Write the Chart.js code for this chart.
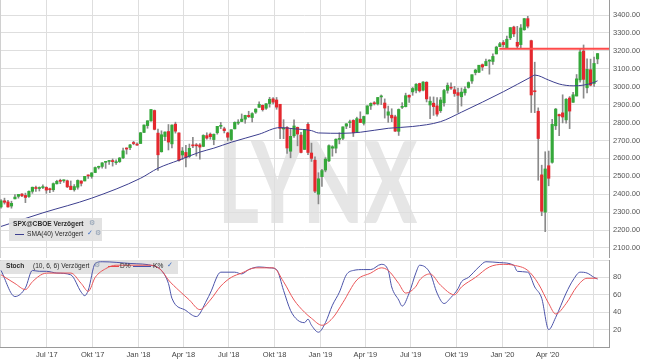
<!DOCTYPE html>
<html>
<head>
<meta charset="utf-8">
<script src="https://cdn.jsdelivr.net/npm/chart.js@4.4.1/dist/chart.umd.min.js"></script>
<style>
  body { margin: 0; background: #fff; }
  #wrap { position: relative; width: 645px; height: 363px; overflow: hidden; font-family: "Liberation Sans", Arial, sans-serif; }
  canvas { position: absolute; left: 0; z-index: 1; }
  #priceChart { top: 0; }
  #stochChart { top: 258px; }
  #watermark { position: absolute; left: 218px; top: 124px; z-index: 0; font: 900 112px Lato, "Liberation Sans", Arial, sans-serif; color: #e6e6e6; line-height: 1; transform-origin: 0 0; transform: scaleX(0.7); white-space: nowrap; }
  .over { position: absolute; z-index: 2; font-size: 6.6px; color: #2a2a2a; white-space: nowrap; }
  .over span { position: absolute; top: 0; }
  #legendBox { left: 9px; top: 218px; width: 93px; height: 23px; background: rgba(224,224,224,0.92); }
  .gear { color: #8a9bb0; font-family: "DejaVu Sans", sans-serif; font-size: 7px; }
  .check { color: #3f6fc4; font-family: "DejaVu Sans", sans-serif; font-size: 7px; }
  #stochHead { left: 0; top: 261px; width: 178px; height: 11px; }
</style>
</head>
<body>
<div id="wrap">
  <div id="watermark">LYNX</div>
  <canvas id="priceChart" width="645" height="258"></canvas>
  <canvas id="stochChart" width="645" height="105"></canvas>
  <div id="legendBox" class="over">
    <span style="left:4px;top:2px;font-weight:bold">SPX@CBOE Verzögert</span>
    <span class="gear" style="left:80px;top:1px">⚙</span>
    <span style="left:6px;top:16px;width:9px;height:1px;background:#3d3f8f"></span>
    <span style="left:18px;top:12px">SMA(40) Verzögert</span>
    <span class="check" style="left:78px;top:11px">✓</span>
    <span class="gear" style="left:86px;top:11px">⚙</span>
  </div>
  <div id="stochHead" class="over">
    <span style="left:6px;top:1px;font-weight:bold">Stoch</span>
    <span style="left:33px;top:1px">(10, 6, 6) Verzögert</span>
    <span class="gear" style="left:94px;top:0">⚙</span>
    <span style="left:108px;top:5px;width:11px;height:1px;background:#e8474a"></span>
    <span style="left:120px;top:1px">D%</span>
    <span style="left:133px;top:5px;width:18px;height:1px;background:#4a52a8"></span>
    <span style="left:153px;top:1px">K%</span>
    <span class="check" style="left:167px;top:0">✓</span>
  </div>
</div>
<script>
// weekly candles, each one dated on the Friday of its week
const firstWeek = '2017-03-31';

const opens = [
  2329,2363,2357,2334,2374,2388,2401,2393,2387,2416,2437,2432,2437,2438,2431,2425,2458,2473,2475,2475,
  2445,2425,2439,2474,2474,2503,2499,2521,2550,2555,2578,2583,2588,2576,2582,2603,2658,2660,2685,2679,
  2683,2745,2783,2809,2867,2741,2637,2722,2750,2681,2791,2742,2619,2633,2611,2671,2675,2675,2667,2727,
  2735,2705,2743,2779,2765,2742,2705,2765,2797,2806,2819,2840,2828,2858,2885,2896,2880,2906,2932,2926,
  2902,2764,2773,2640,2726,2773,2730,2650,2790,2630,2590,2400,
  2498,2535,2586,2657,2657,2706,2712,2780,2799,2812,2747,2819,2796,2848,2893,2909,2904,2943,2909,2841,
  2841,2832,2751,2885,2889,2952,2971,2980,3018,2981,3025,2898,2908,2893,2866,2910,2980,2996,2983,2967,
  2944,2966,2996,3032,3079,3081,3123,3117,3143,3141,3183,3224,
  3247,3218,3273,3333,3248,3235,3318,3380,3257,2974,2863,2508,2300,2559,2578,2782,2845,2854,2815,2937,
  2913,2948,3038,3199,2994,3095,3018,3155
];
const highs = [
  2370,2378,2366,2361,2398,2399,2404,2406,2419,2440,2446,2441,2453,2442,2434,2463,2478,2484,2480,2479,
  2474,2454,2480,2475,2500,2508,2520,2552,2557,2576,2582,2588,2597,2592,2605,2657,2659,2679,2695,2687,
  2745,2787,2810,2873,2870,2763,2754,2748,2789,2787,2802,2742,2661,2673,2680,2718,2683,2682,2732,2743,
  2742,2736,2779,2801,2774,2746,2760,2804,2816,2848,2841,2863,2855,2877,2916,2898,2906,2941,2940,2940,
  2902,2816,2778,2767,2815,2775,2746,2761,2800,2685,2608,2520,
  2539,2604,2675,2671,2709,2743,2776,2794,2814,2816,2830,2860,2836,2894,2910,2917,2940,2954,2932,2892,
  2877,2841,2876,2911,2964,2955,2996,3017,3020,3028,3028,2944,2943,2939,2940,2985,3021,3022,3002,2993,
  2993,3000,3027,3067,3097,3120,3127,3154,3151,3183,3226,3248,
  3258,3282,3330,3338,3337,3347,3381,3393,3260,3137,2882,2562,2637,2641,2818,2879,2847,2955,2934,2945,
  2968,3068,3211,3233,3155,3154,3165,3186
];
const lows = [
  2322,2345,2328,2322,2374,2378,2387,2353,2382,2405,2415,2418,2431,2405,2408,2415,2457,2459,2466,2437,
  2425,2417,2428,2446,2474,2488,2489,2520,2541,2546,2544,2566,2557,2566,2577,2598,2624,2649,2676,2673,
  2683,2743,2768,2808,2759,2533,2635,2699,2647,2659,2741,2585,2594,2553,2605,2660,2613,2595,2665,2707,
  2707,2676,2735,2766,2742,2698,2699,2764,2789,2805,2796,2828,2803,2851,2885,2864,2873,2886,2904,2874,
  2710,2710,2628,2603,2717,2670,2631,2649,2621,2583,2409,2346,
  2443,2525,2582,2612,2631,2681,2705,2766,2771,2722,2746,2800,2786,2848,2873,2898,2898,2900,2825,2801,
  2805,2750,2728,2878,2887,2912,2952,2966,2970,2976,2915,2822,2840,2835,2856,2891,2964,2985,2946,2856,
  2892,2953,2992,3019,3066,3078,3091,3117,3070,3124,3183,3224,
  3221,3214,3263,3280,3214,3214,3315,3328,2856,2855,2478,2280,2191,2447,2573,2761,2727,2798,2797,2766,
  2913,2948,3025,2936,2965,3005,3001,3128
];
const closes = [
  2363,2355,2329,2349,2384,2399,2391,2382,2416,2439,2432,2433,2438,2423,2425,2459,2472,2472,2476,2441,
  2426,2443,2477,2461,2500,2502,2519,2549,2553,2575,2581,2588,2582,2579,2602,2642,2652,2675,2683,2674,
  2743,2786,2810,2873,2762,2620,2732,2747,2691,2786,2752,2588,2641,2604,2656,2670,2670,2663,2728,2713,
  2721,2735,2779,2780,2755,2718,2760,2801,2802,2819,2840,2833,2850,2875,2902,2872,2905,2930,2914,2886,
  2767,2768,2658,2723,2781,2736,2633,2760,2633,2600,2417,2486,
  2532,2596,2671,2665,2707,2708,2776,2793,2804,2743,2822,2800,2834,2893,2907,2905,2940,2946,2881,2860,
  2826,2752,2873,2887,2950,2942,2990,3014,2977,3026,2932,2919,2889,2847,2926,2979,3007,2992,2962,2952,
  2970,2986,3023,3067,3093,3120,3110,3141,3146,3169,3221,3240,
  3235,3265,3330,3295,3226,3328,3380,3338,2954,2972,2711,2305,2541,2489,2790,2875,2837,2831,2930,2864,
  2955,3044,3194,3041,3097,3009,3130,3185
];

// SMA(40), keyed by candle index
const smaWeeks  = [0, 12, 26, 40, 45, 51, 57, 61, 66, 74, 80, 84, 89, 91, 98, 103, 111, 118, 126, 132, 144, 152, 153, 157, 160, 164, 167, 170, 171];
const smaValues = [2220, 2296, 2378, 2489, 2545, 2590, 2635, 2657, 2690, 2735, 2772, 2765, 2755, 2742, 2740, 2746, 2768, 2778, 2805, 2858, 2972, 3055, 3065, 3037, 3015, 3005, 3009, 3024, 3033];

// resistance line
const levelValue = 3212;
const levelFrom = '2019-12-26';

// Stochastic (10, 6, 6): %K and %D, keyed by candle index
const kWeeks  = [0, 4, 7, 9, 11, 13, 16, 20, 23, 24, 25, 27, 29, 37, 44, 46, 48, 49, 53, 56, 59, 60, 63, 67, 69, 71, 74, 77, 79, 81, 83, 85, 87, 88, 89, 91, 93, 95, 97, 99, 101, 104, 106, 109, 111, 112, 114, 115, 117, 119, 120, 123, 125, 127, 129, 131, 132, 134, 137, 139, 143, 147, 148, 151, 153, 155, 157, 159, 162, 164, 166, 168, 170, 171];
const kValues = [88, 58, 68, 88, 87, 87, 85, 83, 63, 59, 65, 96, 98, 96, 93, 88, 73, 56, 42, 35, 54, 62, 86, 86, 84, 89, 92, 91, 89, 65, 42, 31, 28, 32, 25, 17, 28, 48, 63, 83, 88, 89, 89, 95, 88, 69, 54, 47, 62, 86, 94, 85, 62, 50, 57, 67, 75, 80, 92, 98, 97, 94, 87, 86, 69, 56, 20, 34, 62, 77, 86, 85, 80, 78];
const dWeeks  = [0, 4, 7, 9, 12, 14, 20, 23, 25, 27, 30, 33, 43, 46, 48, 51, 54, 57, 60, 63, 66, 69, 73, 78, 81, 84, 87, 89, 92, 95, 98, 102, 106, 109, 111, 114, 116, 119, 120, 123, 126, 130, 132, 136, 140, 144, 147, 151, 154, 157, 159, 162, 165, 168, 171];
const dValues = [83, 73, 66, 75, 84, 85, 85, 73, 64, 80, 90, 94, 94, 88, 77, 65, 54, 43, 54, 70, 80, 85, 91, 91, 75, 54, 40, 33, 25, 33, 51, 77, 85, 91, 88, 73, 62, 70, 77, 84, 71, 60, 69, 80, 92, 95, 94, 88, 73, 50, 38, 50, 69, 79, 79];

// x axis: quarter starts and their labels
const quarterDates  = ['2017-07-01', '2017-10-01', '2018-01-01', '2018-04-01', '2018-07-01', '2018-10-01', '2019-01-01', '2019-04-01', '2019-07-01', '2019-10-01', '2020-01-01', '2020-04-01', '2020-07-01'];
const quarterLabels = ["Jul '17", "Okt '17", "Jan '18", "Apr '18", "Jul '18", "Okt '18", "Jan '19", "Apr '19", "Jul '19", "Okt '19", "Jan '20", "Apr '20", ''];
const viewFrom = '2017-03-29';
const viewTo = '2020-08-02';

const GREEN = '#35a83a';
const RED = '#e4282e';
const WICK = '#8a8a8a';
const GRID = '#dedede';
const AXIS = '#9a9a9a';
const FONT = { family: '"Liberation Sans", Arial, sans-serif', size: 7.5 };

const dayOf = s => (Date.parse(s) - Date.parse('2017-01-01')) / 864e5;
const candleDays = opens.map((_, i) => dayOf(firstWeek) + 7 * i);
const quarterTicks = quarterDates.map(dayOf);

function xAxis(showLabels) {
  return {
    type: 'linear',
    min: dayOf(viewFrom),
    max: dayOf(viewTo),
    offset: false,
    afterBuildTicks: s => { s.ticks = quarterTicks.map(v => ({ value: v })); },
    grid: { color: GRID, drawTicks: false, offset: false },
    border: { display: showLabels, color: AXIS },
    ticks: {
      display: showLabels, autoSkip: false, maxRotation: 0, padding: 3,
      color: '#444', font: FONT,
      callback: (v, i) => quarterLabels[i]
    },
    afterFit: s => { s.height = showLabels ? 16 : 0; s.paddingLeft = 0; s.paddingRight = 0; }
  };
}

function yAxis(extra) {
  return Object.assign({
    position: 'right',
    grid: { color: GRID, drawTicks: false },
    border: { color: AXIS },
    afterFit: s => { s.width = 36; s.paddingTop = 0; s.paddingBottom = 0; }
  }, extra);
}

// thin frame line on the left side of each panel
const leftEdge = {
  id: 'leftEdge',
  beforeDatasetsDraw(chart) {
    const { ctx, chartArea: a } = chart;
    ctx.save();
    ctx.strokeStyle = '#d0d0d0';
    ctx.lineWidth = 1;
    ctx.beginPath();
    ctx.moveTo(a.left + 0.5, a.top);
    ctx.lineTo(a.left + 0.5, a.bottom);
    ctx.stroke();
    ctx.restore();
  }
};

new Chart(document.getElementById('priceChart'), {
  type: 'bar',
  data: {
    datasets: [
      {
        type: 'line',
        data: [{ x: dayOf(levelFrom), y: levelValue }, { x: dayOf(viewTo), y: levelValue }],
        borderColor: '#ff4b4b', borderWidth: 2, pointRadius: 0, order: 0
      },
      {
        type: 'line',
        data: smaWeeks.map((w, i) => ({ x: candleDays[w], y: smaValues[i] })),
        borderColor: '#3d3f8f', borderWidth: 1, pointRadius: 0,
        cubicInterpolationMode: 'monotone', order: 1
      },
      {
        data: candleDays.map((d, i) => ({ x: d, y: [opens[i], closes[i]] })),
        backgroundColor: ctx => closes[ctx.dataIndex] >= opens[ctx.dataIndex] ? GREEN : RED,
        barThickness: 2.5, minBarLength: 1, grouped: false, order: 2
      },
      {
        data: candleDays.map((d, i) => ({ x: d, y: [lows[i], highs[i]] })),
        backgroundColor: WICK,
        barThickness: 1, grouped: false, order: 3
      }
    ]
  },
  options: {
    responsive: false,
    animation: false,
    layout: { padding: 0 },
    plugins: { legend: { display: false }, tooltip: { enabled: false } },
    scales: {
      x: xAxis(false),
      y: yAxis({
        min: 2044, max: 3484,
        ticks: { stepSize: 100, includeBounds: false, padding: 4, color: '#555', font: FONT, callback: v => v.toFixed(2) }
      })
    }
  },
  plugins: [leftEdge]
});

// grey title bar behind the stochastic lines
const stochHeader = {
  id: 'stochHeader',
  beforeDatasetsDraw(chart) {
    const { ctx, chartArea: a } = chart;
    ctx.save();
    ctx.fillStyle = '#e2e2e2';
    ctx.fillRect(a.left, a.top + 1, 178, 13);
    ctx.restore();
  }
};

new Chart(document.getElementById('stochChart'), {
  type: 'line',
  data: {
    datasets: [
      {
        data: dWeeks.map((w, i) => ({ x: candleDays[w], y: dValues[i] })),
        borderColor: '#ea5659', borderWidth: 1, pointRadius: 0, cubicInterpolationMode: 'monotone'
      },
      {
        data: kWeeks.map((w, i) => ({ x: candleDays[w], y: kValues[i] })),
        borderColor: '#4b53a9', borderWidth: 1, pointRadius: 0, cubicInterpolationMode: 'monotone'
      }
    ]
  },
  options: {
    responsive: false,
    animation: false,
    layout: { padding: { top: 2 } },
    plugins: { legend: { display: false }, tooltip: { enabled: false } },
    scales: {
      x: xAxis(true),
      y: yAxis({
        min: 0, max: 100,
        ticks: { stepSize: 20, padding: 4, color: '#555', font: FONT, callback: v => (v === 0 || v === 100) ? '' : v }
      })
    }
  },
  plugins: [leftEdge, stochHeader]
});
</script>
</body>
</html>
